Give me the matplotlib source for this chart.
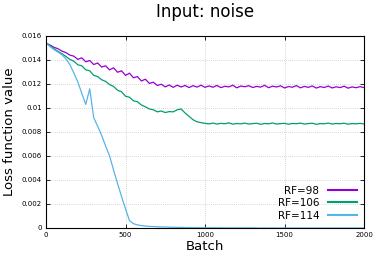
import numpy as np
import matplotlib
matplotlib.use("Agg")
import matplotlib.pyplot as plt
from matplotlib.lines import Line2D

batch = list(range(0, 2001, 25))

rf98 = [0.01540, 0.01525, 0.01506, 0.01494, 0.01474, 0.01462, 0.01441, 0.01432, 0.01405, 0.01418,
        0.01385, 0.01396, 0.01362, 0.01375, 0.01341, 0.01352, 0.01318, 0.01335, 0.01298, 0.01310,
        0.01272, 0.01290, 0.01252, 0.01262, 0.01225, 0.01240, 0.01205, 0.01215, 0.01188, 0.01198,
        0.01176, 0.01192, 0.01172, 0.01190, 0.01175, 0.01188, 0.01170, 0.01186, 0.01174, 0.01190,
        0.01172,
        0.01184, 0.01173, 0.01188, 0.01170, 0.01181, 0.01176, 0.01190, 0.01168, 0.01183, 0.01177,
        0.01186, 0.01171, 0.01180, 0.01174, 0.01189, 0.01169, 0.01182, 0.01175, 0.01185, 0.01167,
        0.01179, 0.01173, 0.01187, 0.01168, 0.01180, 0.01172, 0.01184, 0.01166, 0.01178, 0.01171,
        0.01183, 0.01167, 0.01177, 0.01170, 0.01182, 0.01165, 0.01176, 0.01169, 0.01178, 0.01170]

rf106 = [0.01540, 0.01518, 0.01495, 0.01472, 0.01453, 0.01430, 0.01405, 0.01390, 0.01360, 0.01352,
         0.01318, 0.01310, 0.01272, 0.01262, 0.01235, 0.01222, 0.01195, 0.01180, 0.01148, 0.01135,
         0.01098, 0.01090, 0.01060, 0.01052, 0.01025, 0.01010, 0.00992, 0.00985, 0.00968, 0.00975,
         0.00962, 0.00970, 0.00968, 0.00985, 0.00992, 0.00958, 0.00930, 0.00902, 0.00885, 0.00878,
         0.00872,
         0.00868, 0.00874, 0.00866, 0.00872, 0.00869, 0.00876, 0.00865, 0.00871, 0.00868, 0.00874,
         0.00866, 0.00870, 0.00873, 0.00864, 0.00871, 0.00868, 0.00875, 0.00866, 0.00870, 0.00872,
         0.00865, 0.00871, 0.00869, 0.00874, 0.00866, 0.00870, 0.00873, 0.00864, 0.00870, 0.00868,
         0.00874, 0.00866, 0.00871, 0.00869, 0.00873, 0.00865, 0.00870, 0.00868, 0.00872, 0.00867]

rf114 = [0.01540, 0.01512, 0.01487, 0.01466, 0.01444, 0.01410, 0.01362, 0.01292, 0.01218, 0.01122,
         0.01030, 0.01160, 0.00920, 0.00848, 0.00772, 0.00683, 0.00600, 0.00482, 0.00372, 0.00262,
         0.00160, 0.00062, 0.00036, 0.00026, 0.00020, 0.00016, 0.00013, 0.00012, 0.00010, 0.00009,
         0.00008, 0.00007, 0.00006, 0.00005, 0.00005, 0.00004, 0.00004, 0.00003, 0.00003, 0.00002,
         0.00002,
         0.00002, 0.00002, 0.00001, 0.00002, 0.00001, 0.00001, 0.00001, 0.00001, 0.00001, 0.00001,
         0.00001, 0.00001, 0.00001, 0.00000, 0.00001, 0.00000, 0.00001, 0.00000, 0.00000, 0.00001,
         0.00000, 0.00000, 0.00000, 0.00000, 0.00000, 0.00000, 0.00000, 0.00000, 0.00000, 0.00000,
         0.00000, 0.00000, 0.00000, 0.00000, 0.00000, 0.00000, 0.00000, 0.00000, 0.00000, 0.00000]

labels = ["RF=98", "RF=106", "RF=114"]
colors = ["#9400d3", "#009e73", "#56b4e9"]
xticks = [0, 500, 1000, 1500, 2000]
yticks = [0, 0.002, 0.004, 0.006, 0.008, 0.01, 0.012, 0.014, 0.016]
ytick_labels = ["0", "0.002", "0.004", "0.006", "0.008", "0.01", "0.012", "0.014", "0.016"]

plt.rcParams['font.family'] = ['DejaVu Sans']
fig = plt.figure(figsize=(3.74, 2.57), dpi=100)
ax = fig.add_axes([46/374, 29/257, 318/374, 192/257])

for y, c in zip([rf98, rf106, rf114], colors):
    ax.plot(batch, y, color=c, lw=0.9)

ax.set_xlim(0, 2000)
ax.set_ylim(0, 0.016)
ax.set_xticks(xticks)
ax.set_xticklabels([str(t) for t in xticks], fontsize=5)
ax.set_yticks(yticks)
ax.set_yticklabels(ytick_labels, fontsize=5)
ax.tick_params(direction='in', top=True, right=True, length=3, width=0.6, pad=3)
ax.grid(True, color='#b0b0b0', linestyle=(0, (1, 2)), lw=0.5)
for s in ax.spines.values():
    s.set_linewidth(0.8)

fig.text(205/374, 1 - 12/257, "Input: noise", ha='center', va='center', fontsize=12)
ax.set_xlabel("Batch", fontsize=9.5, labelpad=1)
ax.set_ylabel("Loss function value", fontsize=9.5, labelpad=4)

handles = [Line2D([], [], color=c, lw=1.5) for c in colors]
leg = ax.legend(handles, labels, loc='lower right', markerfirst=False, frameon=False,
                fontsize=7.5, handlelength=2.8, labelspacing=0.25, borderaxespad=0.3)

fig.savefig("out.png", dpi=100)
